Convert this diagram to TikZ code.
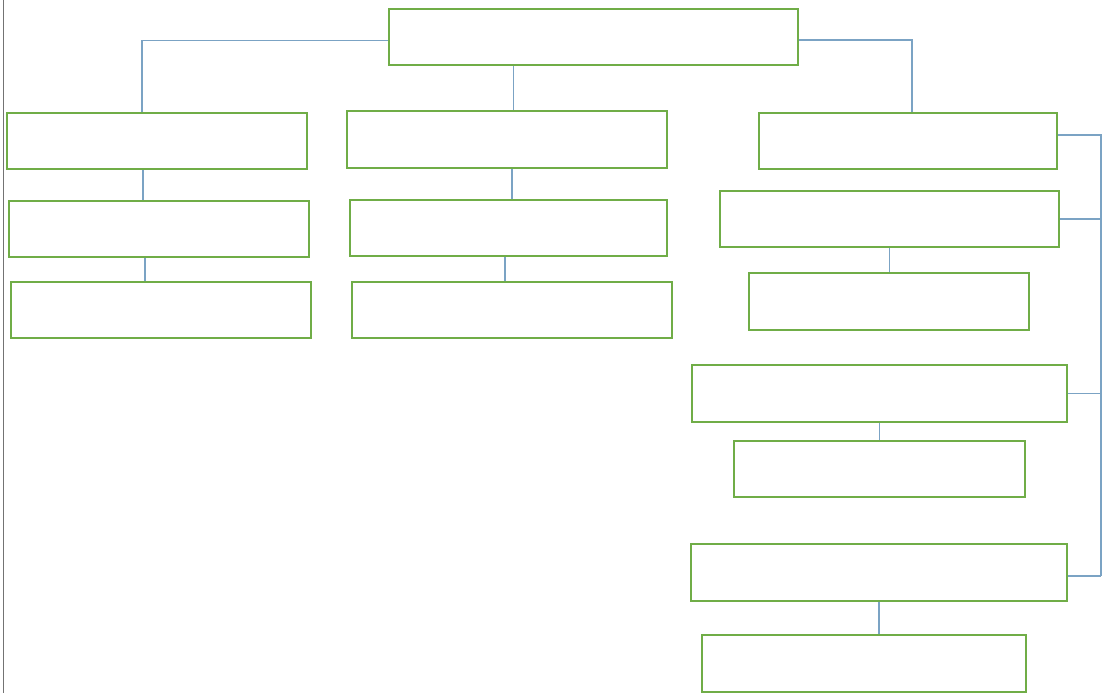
\documentclass[tikz,border=0pt]{standalone}
\usepackage{xcolor}
\usepackage{tikz}
\usetikzlibrary{calc}

\definecolor{boxgreen}{HTML}{70AD47}
\definecolor{linkblue}{HTML}{7BA3C4}

\begin{document}
\begin{tikzpicture}[
    box/.style={rectangle, draw=boxgreen, line width=1.2pt, fill=white, minimum height=1.13cm, inner sep=0pt},
    link/.style={draw=linkblue, line width=0.75pt},
    edge/.style={draw=black!55, line width=0.8pt}
]
    \useasboundingbox (0,0) rectangle (22.04,-13.86);

    % Page edge on the left
    \draw[edge] (0.07,0) -- (0.07,-13.86);

    % Root
    \node[box, minimum width=8.18cm] (TOP) at (11.87,-0.74) {};

    % Left column
    \node[box, minimum width=6.0cm]  (L1) at (3.14,-2.82) {};
    \node[box, minimum width=6.0cm]  (L2) at (3.18,-4.58) {};
    \node[box, minimum width=6.0cm]  (L3) at (3.22,-6.20) {};

    % Middle column
    \node[box, minimum width=6.4cm]  (M1) at (10.14,-2.79) {};
    \node[box, minimum width=6.34cm] (M2) at (10.17,-4.56) {};
    \node[box, minimum width=6.4cm]  (M3) at (10.24,-6.20) {};

    % Right column
    \node[box, minimum width=5.96cm] (R1) at (18.16,-2.82) {};
    \node[box, minimum width=6.78cm] (R2) at (17.79,-4.38) {};
    \node[box, minimum width=5.6cm]  (R3) at (17.78,-6.03) {};
    \node[box, minimum width=7.5cm]  (R4) at (17.59,-7.87) {};
    \node[box, minimum width=5.82cm] (R5) at (17.59,-9.38) {};
    \node[box, minimum width=7.52cm] (R6) at (17.58,-11.45) {};
    \node[box, minimum width=6.48cm] (R7) at (17.28,-13.27) {};

    % Anchor points of the connectors
    \coordinate (topleft) at ($(TOP.west)+(0,-0.07)$);
    \coordinate (topright) at ($(TOP.east)+(0,-0.06)$);
    \coordinate (l1top) at ($(L1.north)+(-0.30,0)$);
    \coordinate (m1top) at ($(M1.north)+(0.13,0)$);
    \coordinate (r1top) at ($(R1.north)+(0.08,0)$);
    \coordinate (l1bot) at ($(L1.south)+(-0.28,0)$);
    \coordinate (l2bot) at ($(L2.south)+(-0.28,0)$);
    \coordinate (m1bot) at ($(M1.south)+(0.10,0)$);
    \coordinate (m2bot) at ($(M2.south)+(-0.07,0)$);
    \coordinate (r1side) at ($(R1.east)+(0,0.12)$);
    \coordinate (r6side) at ($(R6.east)+(0,-0.07)$);
    \coordinate (BUS) at (22.02,0);

    % Root to first row
    \draw[link] (topleft) -| (l1top);
    \draw[link] (m1top |- TOP.south) -- (m1top);
    \draw[link] (topright) -| (r1top);

    % Left and middle chains
    \draw[link] (l1bot) -- (l1bot |- L2.north);
    \draw[link] (l2bot) -- (l2bot |- L3.north);
    \draw[link] (m1bot) -- (m1bot |- M2.north);
    \draw[link] (m2bot) -- (m2bot |- M3.north);

    % Right chains
    \draw[link] (R2.south) -- (R2.south |- R3.north);
    \draw[link] (R4.south) -- (R4.south |- R5.north);
    \draw[link] (R6.south) -- (R6.south |- R7.north);

    % Bus on the right edge
    \draw[link] (r1side) -- (r1side -| BUS) -- (r6side -| BUS);
    \draw[link] (R2.east) -- (R2.east -| BUS);
    \draw[link] (R4.east) -- (R4.east -| BUS);
    \draw[link] (r6side) -- (r6side -| BUS);
\end{tikzpicture}
\end{document}
